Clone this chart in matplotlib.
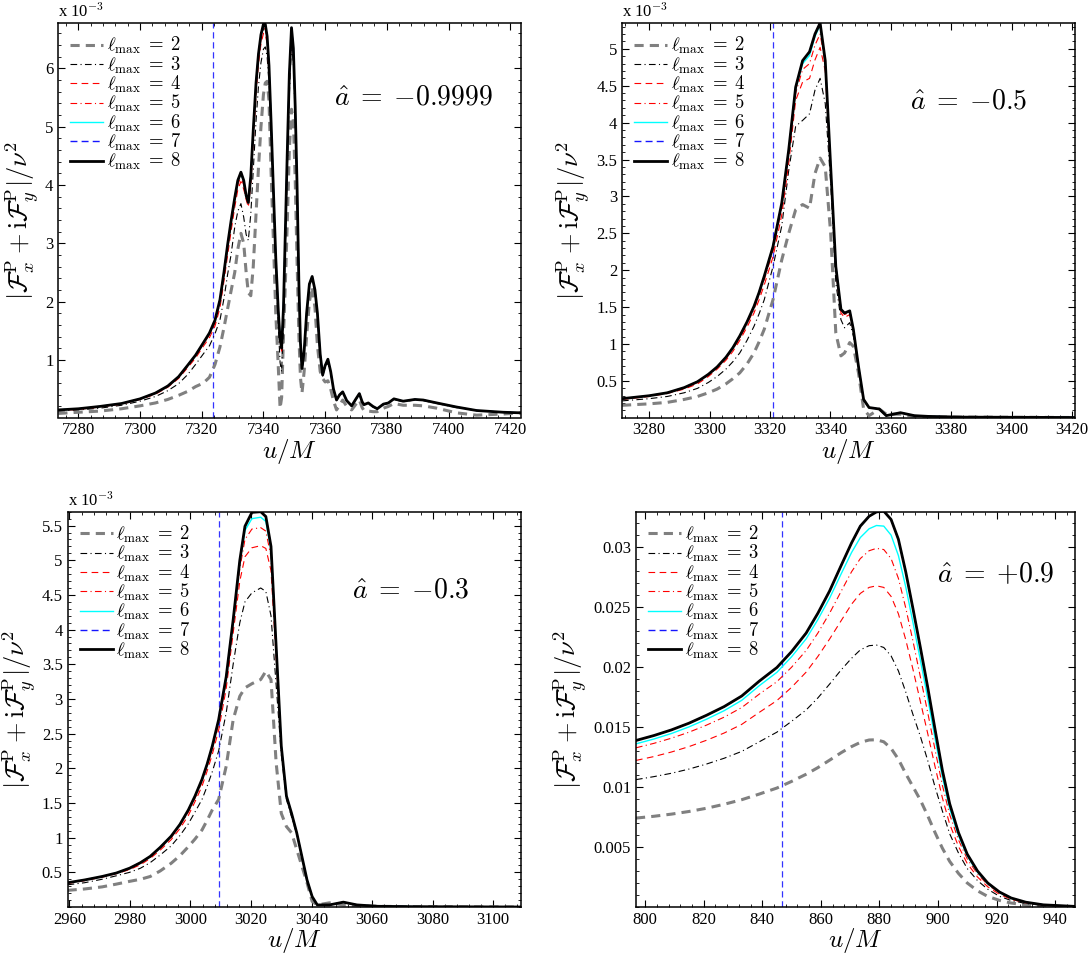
import matplotlib
matplotlib.use('Agg')
import matplotlib.pyplot as plt
from matplotlib.ticker import AutoMinorLocator, FormatStrFormatter

plt.rcParams['mathtext.fontset'] = 'cm'
plt.rcParams['font.family'] = ['Liberation Serif', 'DejaVu Serif']

# ---- panel 1: a = -0.9999  (y in units of 1e-3) ----
p1_u = [7273.5, 7280, 7287, 7294, 7300, 7305, 7309, 7312.5, 7315.5, 7318, 7320.5, 7322.5, 7324.3, 7325.9, 7327.2,
        7328.4, 7329.5, 7330.7, 7331.7, 7332.7, 7333.6, 7334.4, 7335.1, 7335.9, 7336.7, 7337.6, 7338.4, 7339.2,
        7340.0, 7340.6, 7341.2, 7341.8, 7342.5, 7343.2, 7344.0, 7344.8, 7345.4, 7345.9, 7346.5, 7347.1, 7347.7,
        7348.4, 7349.1, 7349.7, 7350.3, 7350.9, 7351.5, 7352.0, 7352.5, 7353.2, 7354.0, 7354.9, 7355.8, 7356.7,
        7357.5, 7358.4, 7359.2, 7360.0, 7360.9, 7361.8, 7362.7, 7363.7, 7364.7, 7365.7, 7367.0, 7368.6, 7370.0,
        7371.1, 7372.0, 7372.6, 7374.0, 7375.5, 7376.9, 7378.9, 7380.5, 7382.3, 7385.3, 7389.1, 7391.8, 7396.2,
        7402.6, 7409.1, 7417.7, 7423.5]
p1_l8 = [0.14, 0.16, 0.20, 0.25, 0.33, 0.43, 0.55, 0.71, 0.91, 1.08, 1.29, 1.46, 1.68, 2.03, 2.50,
         2.98, 3.38, 3.78, 4.08, 4.22, 4.08, 3.82, 3.70, 4.15, 4.94, 5.75, 6.25, 6.58,
         6.76, 6.76, 6.55, 6.05, 5.05, 3.97, 2.75, 1.85, 1.35, 1.20, 1.90, 3.20, 4.50,
         5.90, 6.70, 6.35, 5.35, 4.00, 2.30, 1.30, 0.85, 1.15, 1.80, 2.30, 2.43, 2.20,
         1.80, 1.10, 0.74, 0.90, 1.01, 0.80, 0.50, 0.31, 0.40, 0.45, 0.30, 0.21, 0.33,
         0.42, 0.28, 0.23, 0.26, 0.20, 0.16, 0.24, 0.26, 0.33, 0.29, 0.32, 0.31, 0.26,
         0.19, 0.13, 0.10, 0.09]
p1_l2 = [0.08, 0.10, 0.12, 0.16, 0.21, 0.26, 0.32, 0.39, 0.46, 0.54, 0.60, 0.70, 0.92, 1.22, 1.55,
         1.88, 2.18, 2.50, 2.90, 3.17, 3.00, 2.50, 2.15, 2.10, 2.60, 3.50, 4.30, 5.00,
         5.55, 5.75, 5.78, 5.45, 4.20, 3.10, 1.80, 0.90, 0.17, 0.35, 1.40, 2.30, 3.30,
         4.60, 5.30, 5.10, 4.10, 2.70, 1.40, 0.70, 0.43, 0.80, 1.40, 2.00, 2.25, 1.90,
         1.25, 0.80, 0.68, 0.62, 0.64, 0.50, 0.30, 0.14, 0.22, 0.31, 0.20, 0.14, 0.24,
         0.31, 0.18, 0.13, 0.12, 0.11, 0.11, 0.17, 0.20, 0.25, 0.22, 0.22, 0.21, 0.17,
         0.09, 0.05, 0.07, 0.09]
p1_l3 = [0.12, 0.14, 0.17, 0.22, 0.29, 0.37, 0.47, 0.59, 0.75, 0.92, 1.10, 1.24, 1.45, 1.68, 2.05,
         2.47, 2.80, 3.28, 3.55, 3.68, 3.45, 3.15, 3.05, 3.50, 4.25, 5.10, 5.70, 6.10,
         6.33, 6.37, 6.20, 5.75, 4.85, 3.80, 2.60, 1.60, 0.95, 0.80, 1.60, 2.90, 4.20,
         5.55, 6.40, 6.10, 5.15, 3.85, 2.20, 1.25, 0.82, 1.12, 1.76, 2.27, 2.40, 2.17,
         1.76, 1.05, 0.72, 0.86, 0.95, 0.76, 0.48, 0.30, 0.39, 0.44, 0.29, 0.20, 0.32,
         0.41, 0.27, 0.22, 0.25, 0.19, 0.16, 0.23, 0.25, 0.32, 0.28, 0.31, 0.30, 0.25,
         0.18, 0.13, 0.10, 0.09]
p1_l4 = [0.13, 0.15, 0.19, 0.24, 0.32, 0.41, 0.53, 0.68, 0.87, 1.03, 1.23, 1.38, 1.58, 1.89, 2.35,
         2.80, 3.20, 3.62, 3.92, 4.06, 3.93, 3.75, 3.62, 4.00, 4.75, 5.55, 6.08, 6.42,
         6.60, 6.60, 6.42, 5.95, 5.00, 3.95, 2.72, 1.82, 1.30, 1.15, 1.85, 3.12, 4.40,
         5.80, 6.58, 6.25, 5.28, 3.96, 2.28, 1.29, 0.84, 1.14, 1.79, 2.29, 2.42, 2.19,
         1.78, 1.08, 0.73, 0.89, 1.00, 0.79, 0.49, 0.31, 0.40, 0.45, 0.30, 0.21, 0.33,
         0.42, 0.28, 0.23, 0.26, 0.20, 0.16, 0.24, 0.26, 0.33, 0.29, 0.32, 0.31, 0.26,
         0.19, 0.13, 0.10, 0.09]
p1_l5 = [0.14, 0.16, 0.20, 0.25, 0.33, 0.42, 0.54, 0.70, 0.89, 1.06, 1.27, 1.43, 1.63, 1.97, 2.44,
         2.90, 3.30, 3.70, 4.00, 4.15, 4.00, 3.78, 3.66, 4.08, 4.85, 5.67, 6.17, 6.50,
         6.68, 6.68, 6.50, 6.00, 5.03, 3.96, 2.74, 1.84, 1.33, 1.18, 1.88, 3.17, 4.46,
         5.86, 6.65, 6.31, 5.32, 3.98, 2.29, 1.30, 0.85, 1.15, 1.80, 2.30, 2.43, 2.20,
         1.80, 1.09, 0.74, 0.90, 1.01, 0.80, 0.50, 0.31, 0.40, 0.45, 0.30, 0.21, 0.33,
         0.42, 0.28, 0.23, 0.26, 0.20, 0.16, 0.24, 0.26, 0.33, 0.29, 0.32, 0.31, 0.26,
         0.19, 0.13, 0.10, 0.09]
p1_l6 = [0.14, 0.16, 0.20, 0.25, 0.33, 0.43, 0.55, 0.71, 0.91, 1.08, 1.29, 1.46, 1.67, 2.02, 2.49,
         2.96, 3.36, 3.76, 4.06, 4.20, 4.06, 3.80, 3.69, 4.13, 4.92, 5.73, 6.23, 6.56,
         6.74, 6.74, 6.53, 6.03, 5.05, 3.97, 2.75, 1.85, 1.35, 1.20, 1.90, 3.19, 4.49,
         5.89, 6.69, 6.34, 5.34, 4.00, 2.30, 1.30, 0.85, 1.15, 1.80, 2.30, 2.43, 2.20,
         1.80, 1.10, 0.74, 0.90, 1.01, 0.80, 0.50, 0.31, 0.40, 0.45, 0.30, 0.21, 0.33,
         0.42, 0.28, 0.23, 0.26, 0.20, 0.16, 0.24, 0.26, 0.33, 0.29, 0.32, 0.31, 0.26,
         0.19, 0.13, 0.10, 0.09]
p1_l7 = p1_l8  # l=7 lies under l=8
p1_mark = 7323.5

# ---- panel 2: a = -0.5 (1e-3) ----
p2_u = [3271, 3280, 3286, 3291.6, 3296, 3299.6, 3302.5, 3305.4, 3307.7, 3310, 3312.4, 3314.7, 3316.4, 3318.1,
        3321, 3323.9, 3326.2, 3328.5, 3330.8, 3333.1, 3334.9, 3336.6, 3338.3, 3340.1, 3341.8, 3343.5, 3344.7,
        3346.4, 3347.6, 3349.3, 3351, 3352.8, 3356.2, 3358.5, 3363.2, 3367.8, 3372.4, 3384, 3421.2]
p2_l2 = [0.17, 0.19, 0.21, 0.25, 0.29, 0.34, 0.39, 0.46, 0.53, 0.61, 0.73, 0.88, 1.03, 1.20,
         1.60, 2.14, 2.50, 2.82, 2.89, 2.84, 3.31, 3.52, 3.40, 2.50, 1.15, 0.84, 0.88,
         1.02, 0.97, 0.61, 0.12, 0.03, 0.12, 0.05, 0.05, 0.02, 0.01, 0.01, 0.005]
p2_l3 = [0.23, 0.26, 0.29, 0.34, 0.40, 0.48, 0.56, 0.66, 0.76, 0.88, 1.05, 1.24, 1.41, 1.60,
         2.05, 2.60, 3.35, 3.95, 4.03, 4.12, 4.44, 4.60, 4.26, 3.18, 1.83, 1.33, 1.22,
         1.29, 1.11, 0.68, 0.23, 0.14, 0.12, 0.03, 0.07, 0.03, 0.02, 0.01, 0.005]
p2_l4 = [0.25, 0.29, 0.33, 0.39, 0.46, 0.56, 0.66, 0.78, 0.90, 1.05, 1.23, 1.42, 1.60, 1.80,
         2.18, 2.75, 3.45, 4.30, 4.55, 4.60, 4.85, 5.02, 4.70, 3.35, 2.00, 1.42, 1.36,
         1.40, 1.18, 0.70, 0.25, 0.14, 0.12, 0.03, 0.07, 0.03, 0.02, 0.01, 0.005]
p2_l5 = [0.26, 0.30, 0.34, 0.40, 0.48, 0.58, 0.68, 0.80, 0.93, 1.08, 1.27, 1.47, 1.66, 1.87,
         2.26, 2.85, 3.55, 4.40, 4.72, 4.80, 5.05, 5.20, 4.80, 3.38, 2.03, 1.45, 1.40,
         1.43, 1.19, 0.70, 0.25, 0.14, 0.12, 0.03, 0.07, 0.03, 0.02, 0.01, 0.005]
p2_l6 = [0.26, 0.30, 0.34, 0.41, 0.49, 0.59, 0.69, 0.82, 0.95, 1.11, 1.30, 1.51, 1.70, 1.92,
         2.32, 2.90, 3.62, 4.46, 4.80, 4.91, 5.17, 5.32, 4.83, 3.40, 2.05, 1.47, 1.42,
         1.45, 1.20, 0.70, 0.25, 0.14, 0.12, 0.03, 0.07, 0.03, 0.02, 0.01, 0.005]
p2_l8 = [0.26, 0.30, 0.34, 0.41, 0.49, 0.59, 0.69, 0.82, 0.95, 1.11, 1.30, 1.51, 1.70, 1.92,
         2.32, 2.91, 3.63, 4.48, 4.84, 4.96, 5.20, 5.35, 4.84, 3.40, 2.05, 1.47, 1.42,
         1.45, 1.20, 0.70, 0.25, 0.14, 0.12, 0.03, 0.07, 0.03, 0.02, 0.01, 0.005]
p2_l7 = p2_l8
p2_mark = 3321.0

# ---- panel 3: a = -0.3 (1e-3) ----
p3_u = [2959.4, 2965, 2970.8, 2975.5, 2979.9, 2983.5, 2986.7, 2990, 2993.6, 2996.5, 2999.3, 3001.5, 3003.8,
        3005.5, 3007.2, 3009.3, 3011.8, 3014.1, 3016.3, 3018, 3020.3, 3023.2, 3024.9, 3026.6, 3028.3, 3030,
        3031.7, 3033.4, 3035.1, 3036.8, 3038.5, 3040.2, 3041.9, 3045.9, 3050.5, 3055, 3061.9, 3073.2, 3109.1]
p3_l2 = [0.24, 0.26, 0.29, 0.33, 0.37, 0.40, 0.44, 0.52, 0.63, 0.74, 0.87, 0.98, 1.11,
         1.25, 1.40, 1.55, 2.03, 2.70, 3.04, 3.16, 3.22, 3.28, 3.40, 3.28, 2.08, 1.35,
         1.16, 1.07, 0.83, 0.59, 0.35, 0.08, 0.03, 0.06, 0.03, 0.02, 0.01, 0.005, 0.0]
p3_l3 = [0.32, 0.35, 0.40, 0.45, 0.50, 0.56, 0.64, 0.75, 0.88, 1.03, 1.20, 1.37, 1.55,
         1.74, 1.95, 2.25, 2.80, 3.50, 4.10, 4.40, 4.53, 4.60, 4.55, 4.20, 3.20, 2.20,
         1.55, 1.30, 1.05, 0.72, 0.38, 0.14, 0.03, 0.03, 0.07, 0.03, 0.01, 0.005, 0.0]
p3_l4 = [0.34, 0.38, 0.43, 0.48, 0.54, 0.61, 0.70, 0.82, 0.97, 1.13, 1.32, 1.52, 1.74,
         1.96, 2.20, 2.55, 3.15, 3.95, 4.70, 5.05, 5.18, 5.21, 5.17, 4.85, 3.60, 2.30,
         1.60, 1.34, 1.07, 0.73, 0.39, 0.15, 0.03, 0.03, 0.07, 0.03, 0.01, 0.005, 0.0]
p3_l5 = [0.35, 0.39, 0.44, 0.49, 0.55, 0.63, 0.72, 0.85, 1.00, 1.17, 1.37, 1.57, 1.80,
         2.03, 2.27, 2.64, 3.25, 4.06, 4.88, 5.30, 5.45, 5.47, 5.42, 5.05, 3.70, 2.31,
         1.60, 1.35, 1.07, 0.73, 0.39, 0.15, 0.03, 0.03, 0.07, 0.03, 0.01, 0.005, 0.0]
p3_l6 = [0.35, 0.39, 0.44, 0.49, 0.56, 0.64, 0.73, 0.86, 1.02, 1.19, 1.40, 1.60, 1.83,
         2.06, 2.31, 2.69, 3.30, 4.12, 4.97, 5.43, 5.60, 5.62, 5.56, 5.15, 3.75, 2.32,
         1.60, 1.35, 1.07, 0.73, 0.39, 0.15, 0.03, 0.03, 0.07, 0.03, 0.01, 0.005, 0.0]
p3_l8 = [0.35, 0.39, 0.44, 0.49, 0.56, 0.64, 0.73, 0.86, 1.02, 1.19, 1.40, 1.60, 1.84,
         2.06, 2.32, 2.70, 3.32, 4.14, 5.00, 5.49, 5.69, 5.70, 5.63, 5.20, 3.76, 2.32,
         1.60, 1.35, 1.07, 0.73, 0.39, 0.15, 0.03, 0.03, 0.07, 0.03, 0.01, 0.005, 0.0]
p3_l7 = p3_l8
p3_mark = 3009.3

# ---- panel 4: a = +0.9 ----
p4_u = [796.9, 803, 809, 815, 821, 827, 833, 839, 845, 850, 855, 859, 863, 867, 870.5, 873.5, 876.5, 879, 881.5,
        884, 886.5, 889, 891.5, 894, 896.5, 899, 901.5, 904, 907, 910, 913.5, 917, 921, 925, 930, 936, 946.8]
p4_l2 = [0.00740, 0.00755, 0.00773, 0.00795, 0.00822, 0.00855, 0.00893, 0.00940, 0.00990, 0.01045, 0.01105,
         0.01160, 0.01222, 0.01285, 0.01335, 0.01370, 0.01390, 0.01392, 0.01375, 0.01320, 0.01230, 0.01110,
         0.01000, 0.00890, 0.00760, 0.00620, 0.00490, 0.00380, 0.00280, 0.00200, 0.00135, 0.00088, 0.00055,
         0.00033, 0.00017, 0.00007, 0.00002]
p4_l3 = [0.01060, 0.01085, 0.01113, 0.01148, 0.01190, 0.01238, 0.01295, 0.01375, 0.01455, 0.01545, 0.01640,
         0.01740, 0.01855, 0.01975, 0.02070, 0.02140, 0.02175, 0.02180, 0.02160, 0.02090, 0.01965, 0.01790,
         0.01600, 0.01420, 0.01220, 0.01000, 0.00800, 0.00610, 0.00450, 0.00320, 0.00220, 0.00148, 0.00089,
         0.00054, 0.00029, 0.00013, 0.00004]
p4_l4 = [0.01220, 0.01252, 0.01290, 0.01335, 0.01388, 0.01448, 0.01520, 0.01620, 0.01718, 0.01828, 0.01955,
         0.02085, 0.02230, 0.02385, 0.02520, 0.02610, 0.02660, 0.02673, 0.02660, 0.02585, 0.02440, 0.02225,
         0.01975, 0.01710, 0.01445, 0.01170, 0.00910, 0.00690, 0.00505, 0.00362, 0.00250, 0.00168, 0.00106,
         0.00064, 0.00034, 0.00016, 0.00005]
p4_l5 = [0.01325, 0.01362, 0.01405, 0.01455, 0.01514, 0.01580, 0.01660, 0.01772, 0.01875, 0.01995, 0.02135,
         0.02280, 0.02445, 0.02630, 0.02790, 0.02900, 0.02965, 0.02985, 0.02975, 0.02900, 0.02735, 0.02490,
         0.02210, 0.01915, 0.01620, 0.01310, 0.01015, 0.00770, 0.00560, 0.00400, 0.00275, 0.00185, 0.00116,
         0.00070, 0.00037, 0.00017, 0.00005]
p4_l6 = [0.01358, 0.01398, 0.01444, 0.01499, 0.01563, 0.01634, 0.01720, 0.01842, 0.01953, 0.02082, 0.02232,
         0.02392, 0.02570, 0.02775, 0.02950, 0.03075, 0.03148, 0.03175, 0.03170, 0.03095, 0.02925, 0.02665,
         0.02365, 0.02055, 0.01740, 0.01405, 0.01085, 0.00820, 0.00595, 0.00425, 0.00290, 0.00194, 0.00121,
         0.00073, 0.00039, 0.00018, 0.00005]
p4_l8 = [0.01386, 0.01427, 0.01474, 0.01530, 0.01596, 0.01668, 0.01756, 0.01880, 0.01993, 0.02125, 0.02280,
         0.02445, 0.02630, 0.02845, 0.03030, 0.03170, 0.03252, 0.03288, 0.03295, 0.03225, 0.03060, 0.02790,
         0.02480, 0.02160, 0.01830, 0.01480, 0.01140, 0.00860, 0.00620, 0.00440, 0.00300, 0.00200, 0.00125,
         0.00075, 0.00040, 0.00018, 0.00005]
p4_l7 = p4_l8
p4_mark = 846.9

ells = [2, 3, 4, 5, 6, 7, 8]

# line styles for each l_max
styles = {
    2: dict(color='#808080', lw=2.2, dashes=(3, 2)),
    3: dict(color='black', lw=0.8, dashes=(6, 3, 1, 3)),
    4: dict(color='red', lw=0.8, dashes=(6, 4)),
    5: dict(color='red', lw=0.8, dashes=(6, 3, 1, 3)),
    6: dict(color='cyan', lw=1.0, ls='-'),
    7: dict(color='#1515ff', lw=1.0, dashes=(5, 3)),
    8: dict(color='black', lw=2.0, ls='-'),
}

W, H = 1092, 956


def rect(l, r, t, b):
    return [l / W, 1 - b / H, (r - l) / W, (b - t) / H]


def draw_panel(ax, u, curves, mark, spin, xlim, ylim, xticks, yticks, exp_label, spin_pos):
    ax.axvline(mark, color='#3333ff', lw=0.9, dashes=(5, 3), zorder=1)
    for ell, y in zip(ells, curves):
        ax.plot(u, y, label=r'$\ell_{\rm max}\;=\;%d$' % ell, zorder=2, **styles[ell])
    ax.set_xlim(xlim)
    ax.set_ylim(ylim)
    ax.set_xticks(xticks)
    ax.set_yticks(yticks)
    ax.yaxis.set_major_formatter(FormatStrFormatter('%g'))
    ax.xaxis.set_minor_locator(AutoMinorLocator(5))
    ax.yaxis.set_minor_locator(AutoMinorLocator(5))
    ax.tick_params(which='both', direction='in', top=True, right=True, labelsize=12)
    ax.tick_params(which='major', length=5)
    ax.tick_params(which='minor', length=2.5)
    for s in ax.spines.values():
        s.set_linewidth(1.1)
    ax.set_xlabel(r'$u/M$', fontsize=18, labelpad=-1)
    ax.set_ylabel(r'$|\mathcal{F}^{\rm P}_x + {\rm i}\mathcal{F}^{\rm P}_y|/\nu^2$', fontsize=19, labelpad=3)
    ax.text(spin_pos[0], spin_pos[1], r'$\hat{a}\;=\;{%s}$' % spin, transform=ax.transAxes,
            fontsize=20, ha='left', va='center')
    if exp_label:
        ax.text(0.0, 1.004, r'x 10$^{-3}$', transform=ax.transAxes, fontsize=12, ha='left', va='bottom')
    ax.legend(loc='upper left', frameon=False, fontsize=13.5, handlelength=1.75, handletextpad=0.2,
              labelspacing=-0.1, borderaxespad=0.2, borderpad=0.45)


fig = plt.figure(figsize=(W / 100, H / 100), dpi=100)

ax1 = fig.add_axes(rect(58.3, 521, 23, 417.5))
draw_panel(ax1, p1_u, [p1_l2, p1_l3, p1_l4, p1_l5, p1_l6, p1_l7, p1_l8], p1_mark, r'-0.9999',
           (7273.5, 7423.5), (0.01, 6.78), range(7280, 7421, 20), [1, 2, 3, 4, 5, 6], True, (0.595, 0.81))

ax2 = fig.add_axes(rect(622, 1075, 23, 417.5))
draw_panel(ax2, p2_u, [p2_l2, p2_l3, p2_l4, p2_l5, p2_l6, p2_l7, p2_l8], p2_mark, r'-0.5',
           (3271, 3421), (0.005, 5.35), range(3280, 3421, 20), [0.5 * k for k in range(1, 11)], True,
           (0.635, 0.80))

ax3 = fig.add_axes(rect(67.6, 521, 511.7, 907))
draw_panel(ax3, p3_u, [p3_l2, p3_l3, p3_l4, p3_l5, p3_l6, p3_l7, p3_l8], p3_mark, r'-0.3',
           (2959.4, 3109.2), (0.0, 5.70), range(2960, 3101, 20), [0.5 * k for k in range(1, 12)], True,
           (0.627, 0.80))

ax4 = fig.add_axes(rect(636, 1075, 511.7, 907))
draw_panel(ax4, p4_u, [p4_l2, p4_l3, p4_l4, p4_l5, p4_l6, p4_l7, p4_l8], p4_mark, r'+0.9',
           (796.9, 946.8), (0.0, 0.0329), range(800, 941, 20), [0.005, 0.01, 0.015, 0.02, 0.025, 0.03],
           False, (0.685, 0.84))

fig.savefig('out.png', dpi=100)
